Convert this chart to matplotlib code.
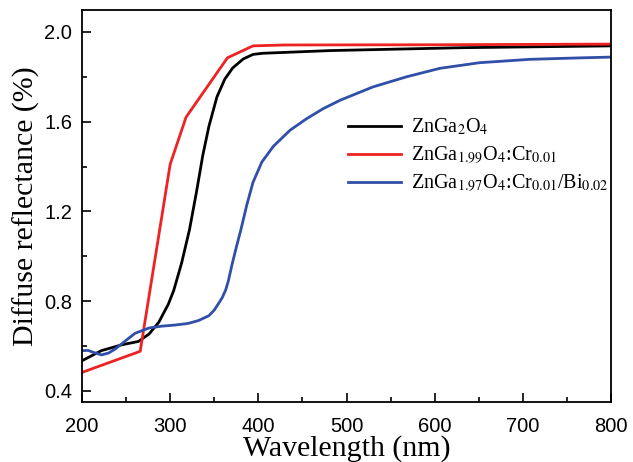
import matplotlib
matplotlib.use("Agg")
import matplotlib.pyplot as plt
from matplotlib.ticker import MultipleLocator

plt.rcParams["mathtext.fontset"] = "stix"

# ZnGa2O4
wl_black = [200, 222, 245, 264, 276, 287, 298, 304, 313, 322, 330, 337, 344, 353, 362,
            371, 383, 394, 405, 481, 632, 800]
r_black = [0.534, 0.579, 0.605, 0.62, 0.653, 0.705, 0.787, 0.847, 0.97, 1.12, 1.29, 1.45,
           1.58, 1.71, 1.79, 1.84, 1.88, 1.90, 1.905, 1.917, 1.93, 1.938]

# ZnGa1.99O4:Cr0.01
wl_red = [200, 266, 300, 318, 365, 394, 430, 600, 800]
r_red = [0.482, 0.576, 1.41, 1.62, 1.885, 1.938, 1.942, 1.943, 1.946]

# ZnGa1.97O4:Cr0.01/Bi0.02
wl_blue = [200, 207, 214, 222, 230, 238, 250, 260, 276, 290, 305, 320, 332, 344, 350, 355,
           359, 363, 366, 370, 375, 380, 387, 394, 404, 417, 436, 455, 474, 493, 530,
           568, 606, 651, 708, 760, 800]
r_blue = [0.579, 0.58, 0.57, 0.56, 0.568, 0.587, 0.625, 0.656, 0.68, 0.688, 0.693, 0.70,
          0.713, 0.735, 0.76, 0.79, 0.815, 0.85, 0.89, 0.96, 1.04, 1.115, 1.23, 1.33, 1.42,
          1.49, 1.562, 1.614, 1.659, 1.696, 1.755, 1.80, 1.838, 1.863, 1.878, 1.884, 1.888]

labels = [r"ZnGa$_2$O$_4$",
          r"ZnGa$_{1.99}$O$_4$:Cr$_{0.01}$",
          r"ZnGa$_{1.97}$O$_4$:Cr$_{0.01}$/Bi$_{0.02}$"]

fig = plt.figure(figsize=(6.33, 4.62), dpi=100)
ax = fig.add_axes([82 / 633, 1 - 402 / 462, 529 / 633, 392 / 462])

ax.plot(wl_black, r_black, color="black", lw=2.0, label=labels[0])
ax.plot(wl_red, r_red, color="#ee2222", lw=2.0, label=labels[1])
ax.plot(wl_blue, r_blue, color="#2f4fa8", lw=2.0, label=labels[2])

ax.set_xlim(200, 800)
ax.set_ylim(0.35, 2.098)
ax.xaxis.set_major_locator(MultipleLocator(100))
ax.xaxis.set_minor_locator(MultipleLocator(50))
ax.yaxis.set_major_locator(MultipleLocator(0.4))
ax.yaxis.set_minor_locator(MultipleLocator(0.2))
ax.tick_params(which="both", direction="in", width=1.2)
ax.tick_params(which="major", length=6.5, labelsize=14.5)
ax.tick_params(axis="x", which="major", pad=10.5)
ax.tick_params(axis="y", which="major", pad=7)
ax.tick_params(which="minor", length=3.5)
for lab in ax.get_xticklabels() + ax.get_yticklabels():
    lab.set_family("Liberation Sans")
for s in ax.spines.values():
    s.set_linewidth(1.3)

ax.set_xlabel("Wavelength (nm)", family="Liberation Serif", fontsize=21.5, labelpad=-0.5)
ax.set_ylabel("Diffuse reflectance (%)", family="Liberation Serif", fontsize=21.5, labelpad=3)

leg = ax.legend(loc="upper left", bbox_to_anchor=(0.503, 0.727), frameon=False,
                borderaxespad=0, borderpad=0,
                prop={"family": "Liberation Serif", "size": 14.5}, handlelength=2.65,
                handletextpad=0.45, labelspacing=0.34)

fig.savefig("out.png", dpi=100)
